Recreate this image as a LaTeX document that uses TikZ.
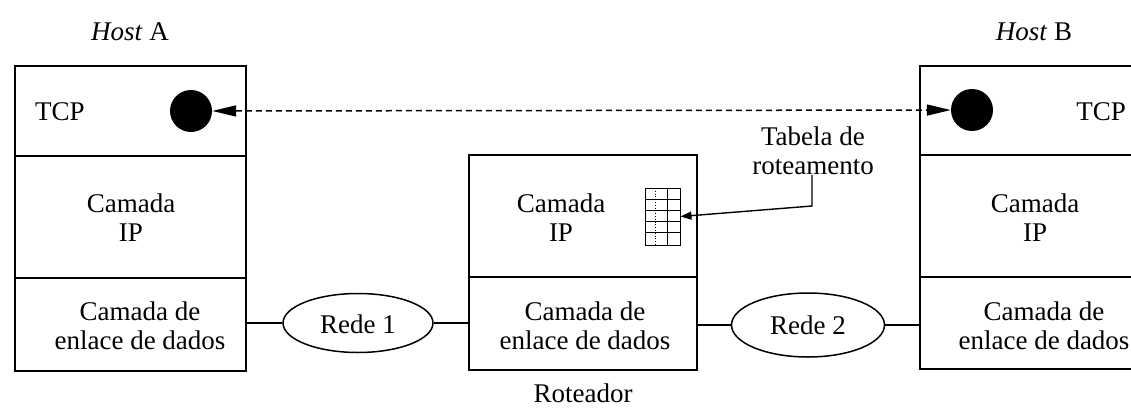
\documentclass[tikz,border=0pt]{standalone}
\usepackage{fontspec}
\setmainfont{Liberation Serif}
\usetikzlibrary{shapes.geometric,arrows.meta}

\tikzset{
  layer/.style={draw, line width=1.8pt, rectangle, inner sep=0pt},
  txt/.style={align=center, inner sep=0pt, font=\fontsize{27}{29}\selectfont},
  net/.style={draw, line width=1.5pt, ellipse, inner sep=0pt},
  link/.style={line width=1.4pt},
  sock/.style={circle, fill=black, minimum size=42pt, inner sep=0pt},
  conn/.style={dashed, dash pattern=on 6pt off 4pt, line width=1.5pt,
    {Triangle[length=24pt,width=11pt]}-{Triangle[length=24pt,width=11pt]}},
  pointer/.style={line width=1.4pt, -{Triangle[length=11pt,width=8pt]}},
  grid/.style={line width=0.8pt}
}

\begin{document}
\begin{tikzpicture}[x=1pt,y=-1pt]
  \useasboundingbox[fill=white] (0,0) rectangle (1131,407);

  % Host A protocol stack
  \node[layer, minimum width=231pt, minimum height=90pt]  (aTcp)  at (130.5,111)   {};
  \node[layer, minimum width=231pt, minimum height=122pt] (aIp)   at (130.5,217)   {};
  \node[layer, minimum width=231pt, minimum height=93pt]  (aLink) at (130.5,324.5) {};
  \node[txt] (aTitle)    at (130,32)  {\textit{Host} A};
  \node[txt] (aTcpTxt)   at (60,112)  {TCP};
  \node[txt] (aIpTxt)    at (131,218) {Camada\\IP};
  \node[txt] (aLinkTxt)  at (140,326) {Camada de\\enlace de dados};
  \node[sock] (aSock) at (191,111) {};

  % Router
  \node[layer, minimum width=228pt, minimum height=122pt] (rIp)   at (583,216)   {};
  \node[layer, minimum width=228pt, minimum height=93pt]  (rLink) at (583,323.5) {};
  \node[txt] (rIpTxt)   at (561,218) {Camada\\IP};
  \node[txt] (rLinkTxt) at (585,326) {Camada de\\enlace de dados};
  \node[txt] (rTitle)   at (583,393) {Roteador};

  % Routing table icon
  \node[draw, line width=0.9pt, minimum width=35pt, minimum height=57pt, inner sep=0pt] (tab) at (662.5,216.5) {};
  \foreach \yy in {199,210,221,232}
    \draw[grid] (tab.west |- 0,\yy) -- (tab.east |- 0,\yy);
  \draw[grid] (667,188) -- (667,245);
  \draw[grid, dotted] (655,188) -- (655,245);

  \node[txt] (tabTxt) at (813,151) {Tabela de\\roteamento};
  \coordinate (bend) at (812,206);
  \draw[pointer] (tabTxt.south -| bend) -- (bend) -- (tab.east);

  % Host B protocol stack
  \node[layer, minimum width=226pt, minimum height=89pt]  (bTcp)  at (1033,110.5) {};
  \node[layer, minimum width=226pt, minimum height=122pt] (bIp)   at (1033,216)   {};
  \node[layer, minimum width=226pt, minimum height=92pt]  (bLink) at (1033,323)   {};
  \node[txt] (bTitle)   at (1034,32)  {\textit{Host} B};
  \node[txt] (bTcpTxt)  at (1101,112) {TCP};
  \node[txt] (bIpTxt)   at (1035,218) {Camada\\IP};
  \node[txt] (bLinkTxt) at (1044,326) {Camada de\\enlace de dados};
  \node[sock] (bSock) at (972,110) {};

  % Networks
  \node[net, minimum width=150pt, minimum height=59pt] (net1) at (358,323) {};
  \node[txt] (net1Txt) at (358,324) {Rede 1};
  \node[net, minimum width=153pt, minimum height=64pt] (net2) at (808,325) {};
  \node[txt] (net2Txt) at (808,325) {Rede 2};

  \draw[link] (aLink.east |- net1.west) -- (net1.west);
  \draw[link] (net1.east) -- (rLink.west |- net1.east);
  \draw[link] (rLink.east |- net2.west) -- (net2.west);
  \draw[link] (net2.east) -- (bLink.west |- net2.east);

  % Transport-level logical connection
  \draw[conn] (aSock) -- (bSock);
\end{tikzpicture}
\end{document}
